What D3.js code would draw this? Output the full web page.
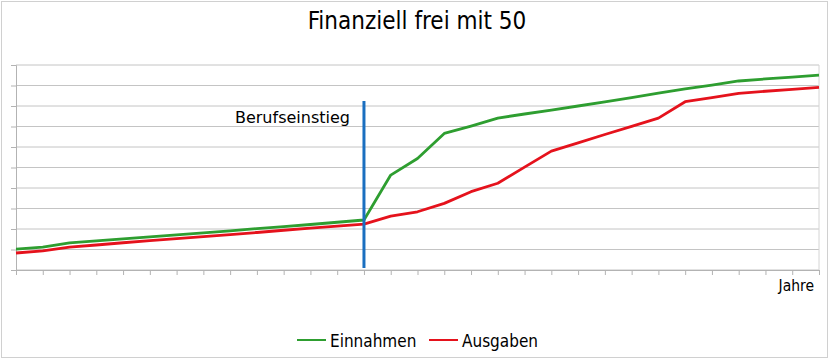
<!DOCTYPE html>
<html lang="de">
<head>
    <meta charset="UTF-8">
    <script src="https://cdn.jsdelivr.net/npm/d3@7"></script>
    <title>Finanziell frei mit 50</title>
    <style>
        body { margin: 0; background: #fff; }
        svg text {
            font-family: "DejaVu Sans Condensed", "DejaVu Sans", sans-serif;
            font-stretch: condensed;
            fill: #000;
        }
        svg text.label {
            font-family: "DejaVu Sans", sans-serif;
            font-stretch: normal;
        }
    </style>
</head>
<body>
<svg width="831" height="360"></svg>
<script>
    // Jahre (keine Beschriftung im Original), 31 Punkte
    var jahre = d3.range(0, 31);
    var einnahmen = [1.02, 1.12, 1.32, 1.42, 1.52, 1.62, 1.71, 1.81, 1.91, 2.02, 2.12, 2.22, 2.33, 2.44,
        4.63, 5.44, 6.66, 7.02, 7.41, 7.61, 7.80, 8.00, 8.20, 8.41, 8.63, 8.83, 9.02, 9.22, 9.32, 9.41, 9.51];
    var ausgaben = [0.83, 0.93, 1.12, 1.22, 1.33, 1.43, 1.53, 1.63, 1.73, 1.83, 1.94, 2.04, 2.14, 2.24,
        2.63, 2.84, 3.25, 3.82, 4.23, 5.02, 5.80, 6.20, 6.61, 7.01, 7.41, 8.21, 8.41, 8.62, 8.72, 8.81, 8.91];
    var yTicks = d3.range(0, 11);
    var serien = [
        {name: "Einnahmen", values: einnahmen, color: "#2e9e30"},
        {name: "Ausgaben", values: ausgaben, color: "#e5121c"}
    ];
    var einstiegJahr = 13;
    var einstiegLabel = "Berufseinstieg";

    var svg = d3.select("svg");
    var margin = {top: 65, right: 12, bottom: 90, left: 16};
    var width = 831, height = 360;

    var x = d3.scalePoint().domain(jahre).range([margin.left, width - margin.right]);
    var y = d3.scaleLinear().domain([0, 10]).range([height - margin.bottom, margin.top]);

    // Rahmen
    svg.append("rect")
        .attr("x", 1.5).attr("y", 1.5)
        .attr("width", 826).attr("height", 356)
        .attr("fill", "none")
        .attr("stroke", "#d0d0d0");

    // Titel
    svg.append("text")
        .attr("x", 417).attr("y", 29)
        .attr("text-anchor", "middle")
        .style("font-size", "24px")
        .text("Finanziell frei mit 50");

    // Gitterlinien
    svg.append("g")
        .selectAll("line")
        .data(yTicks)
        .enter()
        .append("line")
        .attr("x1", margin.left)
        .attr("x2", width - margin.right)
        .attr("y1", function (d) { return y(d); })
        .attr("y2", function (d) { return y(d); })
        .attr("stroke", "#c4c4c4");

    // rechter Rand der Zeichenfläche
    svg.append("line")
        .attr("x1", width - margin.right).attr("x2", width - margin.right)
        .attr("y1", y(10)).attr("y2", y(0))
        .attr("stroke", "#d4d4d4");

    // Y-Achse ohne Beschriftung
    svg.append("g")
        .attr("transform", "translate(" + margin.left + ",0)")
        .call(d3.axisLeft(y).tickValues(yTicks).tickSize(5).tickFormat(""))
        .call(function (g) {
            g.selectAll("line, path").attr("stroke", "#b3b3b3");
        });

    // X-Achse ohne Beschriftung
    svg.append("g")
        .attr("transform", "translate(0," + y(0) + ")")
        .call(d3.axisBottom(x).tickSize(5).tickSizeOuter(0).tickFormat(""))
        .call(function (g) {
            g.selectAll("line, path").attr("stroke", "#b3b3b3");
        });

    svg.append("text")
        .attr("x", 814).attr("y", 291)
        .attr("text-anchor", "end")
        .style("font-size", "15.5px")
        .text("Jahre");

    // Linien
    var line = d3.line()
        .x(function (d, i) { return x(jahre[i]); })
        .y(function (d) { return y(d); });

    svg.append("g")
        .selectAll("path")
        .data(serien)
        .enter()
        .append("path")
        .attr("d", function (s) { return line(s.values); })
        .attr("fill", "none")
        .attr("stroke", function (s) { return s.color; })
        .attr("stroke-width", 2.8)
        .attr("stroke-linejoin", "round");

    // Berufseinstieg
    svg.append("line")
        .attr("x1", x(einstiegJahr)).attr("x2", x(einstiegJahr))
        .attr("y1", 101).attr("y2", 268)
        .attr("stroke", "#1a6fc0")
        .attr("stroke-width", 3);

    svg.append("text")
        .attr("class", "label")
        .attr("x", x(einstiegJahr) - 14).attr("y", 123)
        .attr("text-anchor", "end")
        .style("font-size", "16px")
        .text(einstiegLabel);

    // Legende
    var legendX = [297, 429];
    var legend = svg.append("g")
        .selectAll("g")
        .data(serien)
        .enter()
        .append("g")
        .attr("transform", function (d, i) { return "translate(" + legendX[i] + ",340)"; });
    legend.append("line")
        .attr("x1", 0).attr("x2", 29)
        .attr("stroke", function (d) { return d.color; })
        .attr("stroke-width", 2);
    legend.append("text")
        .attr("x", 33).attr("y", 6.5)
        .style("font-size", "17px")
        .text(function (d) { return d.name; });
</script>
</body>
</html>
